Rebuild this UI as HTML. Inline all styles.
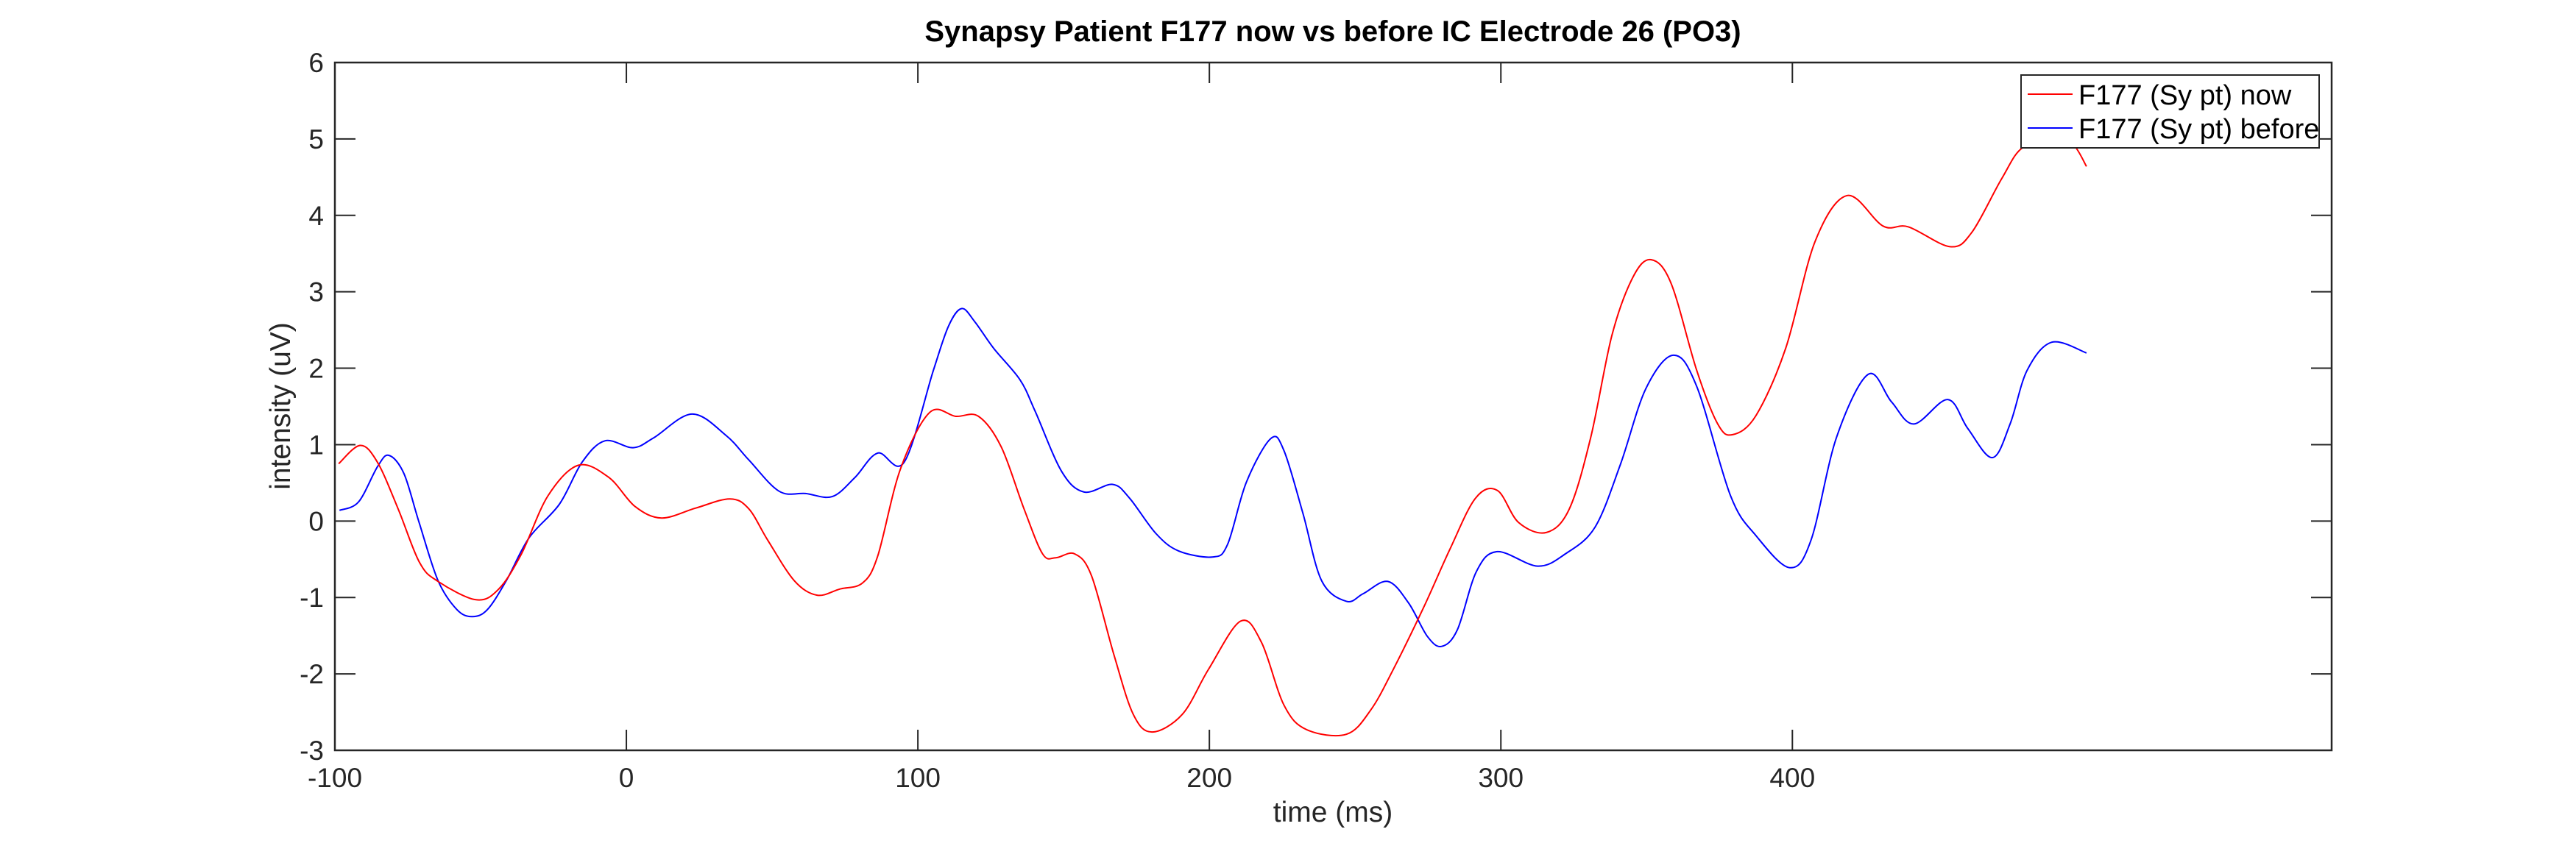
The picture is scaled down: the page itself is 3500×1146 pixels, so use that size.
<!DOCTYPE html>
<html><head><meta charset="utf-8"><style>
html,body{margin:0;padding:0;background:#fff;}
svg{display:block;font-family:"Liberation Sans",Arial,sans-serif;}
</style></head><body>
<svg id="chart" width="3500" height="1146" viewBox="0 0 3500 1146" xmlns="http://www.w3.org/2000/svg">
<rect width="3500" height="1146" fill="#fff"/>
<g id="grid"></g>
<g id="series"></g>
<rect x="455" y="85" width="2713" height="935" fill="none" stroke="#262626" stroke-width="2.5"/>
<g id="ticks"></g>
<text x="1811" y="56" text-anchor="middle" font-size="40" font-weight="bold" fill="#000">Synapsy Patient F177 now vs before IC Electrode 26 (PO3)</text>
<text x="1811" y="1117" text-anchor="middle" font-size="39" fill="#262626">time (ms)</text>
<text transform="translate(394,552) rotate(-90)" text-anchor="middle" font-size="39" fill="#262626">intensity (uV)</text>
<g>
<rect x="2746" y="102" width="405" height="99" fill="#fff" stroke="#262626" stroke-width="2"/>
<line x1="2755" y1="128" x2="2816" y2="128" stroke="#ff0000" stroke-width="2"/>
<text x="2824" y="142" font-size="38" fill="#000">F177 (Sy pt) now</text>
<line x1="2755" y1="174" x2="2816" y2="174" stroke="#0000ff" stroke-width="2"/>
<text x="2824" y="188" font-size="38" fill="#000">F177 (Sy pt) before</text>
</g>
</svg>
<script>
const xTicks = [-100, 0, 100, 200, 300, 400];
const yTicks = [-3, -2, -1, 0, 1, 2, 3, 4, 5, 6];
const nowT = [-98.7,-91.3,-85.4,-78.3,-71,-64.6,-51.6,-43.8,-36,-26.9,-16.5,-6,3,12.1,23.8,35.5,42,48.5,57.6,65.4,73.2,81,86.2,94,104,113,120.8,128.6,136.4,142.8,147.3,153.8,159.6,167.4,173.9,180.3,190.7,199.7,210.7,217.9,225.6,233.4,247,255.4,263.1,273.5,282.5,291.3,298.8,306.1,315.6,323.5,330.8,338.1,345.3,351.5,358.4,367.2,374.4,379.5,387.5,397.7,407.8,418.8,431.1,439.8,454.1,461.6,471.8,479.1,490.7,496.5,500.9];
const nowV = [0.75,0.99,0.77,0.16,-0.54,-0.79,-1.03,-0.89,-0.43,0.33,0.73,0.57,0.19,0.04,0.17,0.29,0.16,-0.25,-0.78,-0.97,-0.89,-0.81,-0.46,0.68,1.42,1.37,1.37,0.97,0.16,-0.43,-0.48,-0.43,-0.72,-1.77,-2.53,-2.76,-2.53,-1.94,-1.31,-1.59,-2.41,-2.73,-2.79,-2.47,-1.94,-1.13,-0.37,0.30,0.40,-0.02,-0.15,0.16,1.09,2.43,3.19,3.42,3.11,1.97,1.27,1.13,1.38,2.26,3.66,4.26,3.86,3.85,3.59,3.78,4.48,4.89,5.00,4.92,4.64];
const beforeT = [-98.4,-91.9,-85.4,-81.5,-76.3,-71.1,-64.6,-58.1,-52.9,-47.7,-41.2,-33.4,-23,-15.2,-7.4,2.3,9.4,22.5,34.2,42,52.4,61.5,70.6,78.4,86.2,95.3,105.3,110.5,115,119.5,126,135,140.2,149.3,157,166.8,172.6,181.6,189.4,201,206.2,212.7,221.1,225.6,232.1,238.5,247,252.8,261.2,268.3,274.8,279.7,285.1,291.6,298.8,312.6,322.1,332.3,341,349.7,359.2,367.2,378.8,387.5,399.1,406.4,415.1,426,434,441.7,453.3,460.2,468.6,474.7,480.5,489,500.9];
const beforeV = [0.14,0.25,0.71,0.86,0.62,-0.02,-0.78,-1.16,-1.25,-1.16,-0.78,-0.22,0.22,0.77,1.05,0.96,1.09,1.40,1.12,0.80,0.39,0.36,0.32,0.57,0.89,0.77,1.97,2.55,2.78,2.61,2.26,1.85,1.44,0.65,0.38,0.48,0.30,-0.16,-0.39,-0.47,-0.31,0.51,1.08,0.92,0.10,-0.78,-1.05,-0.95,-0.79,-1.07,-1.51,-1.64,-1.42,-0.66,-0.40,-0.59,-0.43,-0.08,0.74,1.73,2.17,1.76,0.33,-0.19,-0.61,-0.25,1.09,1.92,1.56,1.27,1.59,1.21,0.83,1.27,1.97,2.34,2.20];

const X0 = 455, X1 = 3168, Y0 = 85, Y1 = 1020;
const xMin = -100, xMax = 585, yMin = -3, yMax = 6;
function sx(t){ return X0 + (t - xMin) / (xMax - xMin) * (X1 - X0); }
function sy(v){ return Y1 - (v - yMin) / (yMax - yMin) * (Y1 - Y0); }
const NS = "http://www.w3.org/2000/svg";
const ticksG = document.getElementById('ticks');
xTicks.forEach(t => {
  const x = sx(t);
  [[Y1, Y1-28],[Y0, Y0+28]].forEach(([a,b]) => {
    const l = document.createElementNS(NS,'line');
    l.setAttribute('x1',x); l.setAttribute('x2',x); l.setAttribute('y1',a); l.setAttribute('y2',b);
    l.setAttribute('stroke','#262626'); l.setAttribute('stroke-width','2');
    
    
    ticksG.appendChild(l);
  });
  const tx = document.createElementNS(NS,'text');
  tx.setAttribute('x',x); tx.setAttribute('y',1070); tx.setAttribute('text-anchor','middle');
  tx.setAttribute('font-size','37'); tx.setAttribute('fill','#262626');
  tx.textContent = String(t);
  
  
  ticksG.appendChild(tx);
});
yTicks.forEach(v => {
  const y = sy(v);
  [[X0, X0+28],[X1, X1-28]].forEach(([a,b]) => {
    const l = document.createElementNS(NS,'line');
    l.setAttribute('x1',a); l.setAttribute('x2',b); l.setAttribute('y1',y); l.setAttribute('y2',y);
    l.setAttribute('stroke','#262626'); l.setAttribute('stroke-width','2');
    
    
    ticksG.appendChild(l);
  });
  const tx = document.createElementNS(NS,'text');
  tx.setAttribute('x',440); tx.setAttribute('y',y+13); tx.setAttribute('text-anchor','end');
  tx.setAttribute('font-size','37'); tx.setAttribute('fill','#262626');
  tx.textContent = String(v);
  
  
  ticksG.appendChild(tx);
});
function smoothPath(ts, vs){
  const p = ts.map((t,i)=>[sx(t), sy(vs[i])]);
  let d = 'M' + p[0][0].toFixed(1) + ',' + p[0][1].toFixed(1);
  for (let i=0;i<p.length-1;i++){
    const a = p[Math.max(0,i-1)], b = p[i], c = p[i+1], e = p[Math.min(p.length-1,i+2)];
    const c1x = b[0] + (c[0]-a[0])/6, c1y = b[1] + (c[1]-a[1])/6;
    const c2x = c[0] - (e[0]-b[0])/6, c2y = c[1] - (e[1]-b[1])/6;
    d += ' C' + c1x.toFixed(1)+','+c1y.toFixed(1)+' '+c2x.toFixed(1)+','+c2y.toFixed(1)+' '+c[0].toFixed(1)+','+c[1].toFixed(1);
  }
  return d;
}
const sg = document.getElementById('series');
const pNow = document.createElementNS(NS,'path');
pNow.setAttribute('d', smoothPath(nowT, nowV));
pNow.setAttribute('fill','none'); pNow.setAttribute('stroke','#ff0000'); pNow.setAttribute('stroke-width','2');


sg.appendChild(pNow);
const pBefore = document.createElementNS(NS,'path');
pBefore.setAttribute('d', smoothPath(beforeT, beforeV));
pBefore.setAttribute('fill','none'); pBefore.setAttribute('stroke','#0000ff'); pBefore.setAttribute('stroke-width','2');


sg.insertBefore(pBefore, pNow);
</script>
</body></html>
